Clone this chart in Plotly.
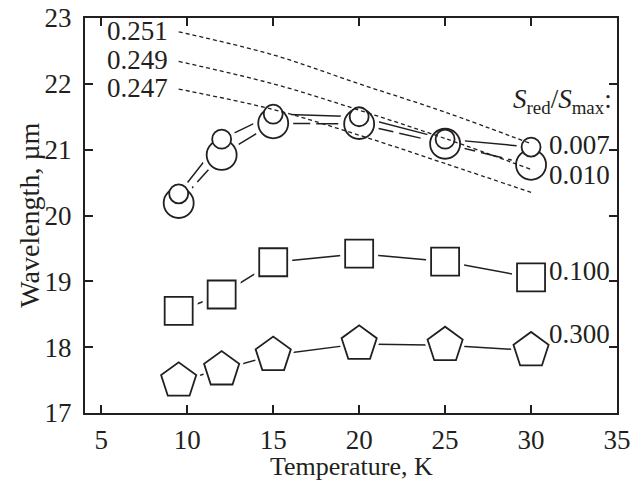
import plotly.graph_objects as go

# ---- data ----
temp = [9.5, 12, 15, 20, 25, 30]
s007 = [20.33, 21.16, 21.54, 21.50, 21.16, 21.04]
s010 = [20.19, 20.92, 21.40, 21.39, 21.09, 20.77]
s100 = [18.55, 18.80, 19.29, 19.42, 19.30, 19.06]
s300 = [17.49, 17.66, 17.88, 18.05, 18.03, 17.95]

ref_temp = [9.5, 15, 20, 25, 30]
ref251 = [22.79, 22.44, 22.00, 21.57, 21.09]
ref249 = [22.34, 22.00, 21.60, 21.17, 20.70]
ref247 = [21.92, 21.61, 21.22, 20.79, 20.35]

ref_labels = ["0.251", "0.249", "0.247"]
series_labels = ["0.007", "0.010", "0.100", "0.300"]
label_y = [21.07, 20.62, 19.16, 18.20]

x_ticks = [5, 10, 15, 20, 25, 30, 35]
y_ticks = [17, 18, 19, 20, 21, 22, 23]

FONT = "Liberation Serif, Times New Roman, serif"
INK = "#231f20"
NUM_SIZE = 27
TITLE_SIZE = 26

fig = go.Figure()

series = [
    (s010, "circle", 30, 10, dict(dash="22px,6px")),
    (s007, "circle", 19, 10, dict(dash="solid")),
    (s100, "square", 28, 10, dict(dash="solid")),
    (s300, "pentagon", 37, 9, dict(dash="solid")),
]

# connecting lines
for vals, sym, size, pad, ls in series:
    fig.add_trace(go.Scatter(x=temp, y=vals, mode="lines",
                             line=dict(color=INK, width=1.5, **ls),
                             hoverinfo="skip", showlegend=False))
# white halos to open gaps round the markers
for vals, sym, size, pad, ls in series:
    fig.add_trace(go.Scatter(x=temp, y=vals, mode="markers",
                             marker=dict(symbol=sym, size=size + pad, color="white",
                                         line=dict(width=0)),
                             hoverinfo="skip", showlegend=False))
# markers
for vals, sym, size, pad, ls in series:
    fig.add_trace(go.Scatter(x=temp, y=vals, mode="markers",
                             marker=dict(symbol=sym, size=size, color="white",
                                         line=dict(color=INK, width=1.8)),
                             showlegend=False))
# dashed reference curves
for vals in (ref251, ref249, ref247):
    fig.add_trace(go.Scatter(x=ref_temp, y=vals, mode="lines",
                             line=dict(color=INK, width=1.3, dash="4px,3px", shape="spline"),
                             hoverinfo="skip", showlegend=False))

annotations = []
for lab, vals in zip(ref_labels, (ref251, ref249, ref247)):
    annotations.append(dict(x=ref_temp[0], y=vals[0], xref="x", yref="y",
                            text=lab, showarrow=False, xanchor="right",
                            yanchor="middle", xshift=-9, yshift=1,
                            font=dict(family=FONT, size=NUM_SIZE, color=INK)))
annotations.append(dict(x=0.995, y=21.74, xref="paper", yref="y",
                        text="<i>S</i><sub>red</sub>/<i>S</i><sub>max</sub>:",
                        showarrow=False, xanchor="right", yanchor="middle",
                        font=dict(family=FONT, size=NUM_SIZE, color=INK)))
for lab, yy in zip(series_labels, label_y):
    annotations.append(dict(x=0.99, y=yy, xref="paper", yref="y",
                            text=lab, showarrow=False, xanchor="right",
                            yanchor="middle",
                            font=dict(family=FONT, size=NUM_SIZE, color=INK)))
# axis titles
annotations.append(dict(x=0.5, y=-0.135, xref="paper", yref="paper",
                        text="Temperature, K", showarrow=False,
                        xanchor="center", yanchor="middle",
                        font=dict(family=FONT, size=TITLE_SIZE, color=INK)))
annotations.append(dict(x=-0.105, y=0.5, xref="paper", yref="paper",
                        text="Wavelength, µm", showarrow=False, textangle=-90,
                        xanchor="center", yanchor="middle",
                        font=dict(family=FONT, size=TITLE_SIZE + 2, color=INK)))

axis_common = dict(showline=True, linecolor=INK, linewidth=2, mirror="ticks",
                   ticks="inside", ticklen=8, tickwidth=1.5, tickcolor=INK,
                   showgrid=False, zeroline=False, automargin=False,
                   ticklabeloverflow="allow",
                   tickfont=dict(family=FONT, size=NUM_SIZE, color=INK))

fig.update_layout(
    template="none",
    width=630, height=480,
    margin=dict(l=85, r=13, t=18, b=67),
    paper_bgcolor="white", plot_bgcolor="white",
    xaxis=dict(range=[4.05, 35], tickvals=x_ticks, ticklabelstandoff=2, **axis_common),
    yaxis=dict(range=[17, 23], tickvals=y_ticks, ticklabelstandoff=6, **axis_common),
    annotations=annotations,
)

fig.write_html("out.html", config={"displayModeBar": False},
               post_script="document.body.style.margin='0';document.body.style.overflow='hidden';")
